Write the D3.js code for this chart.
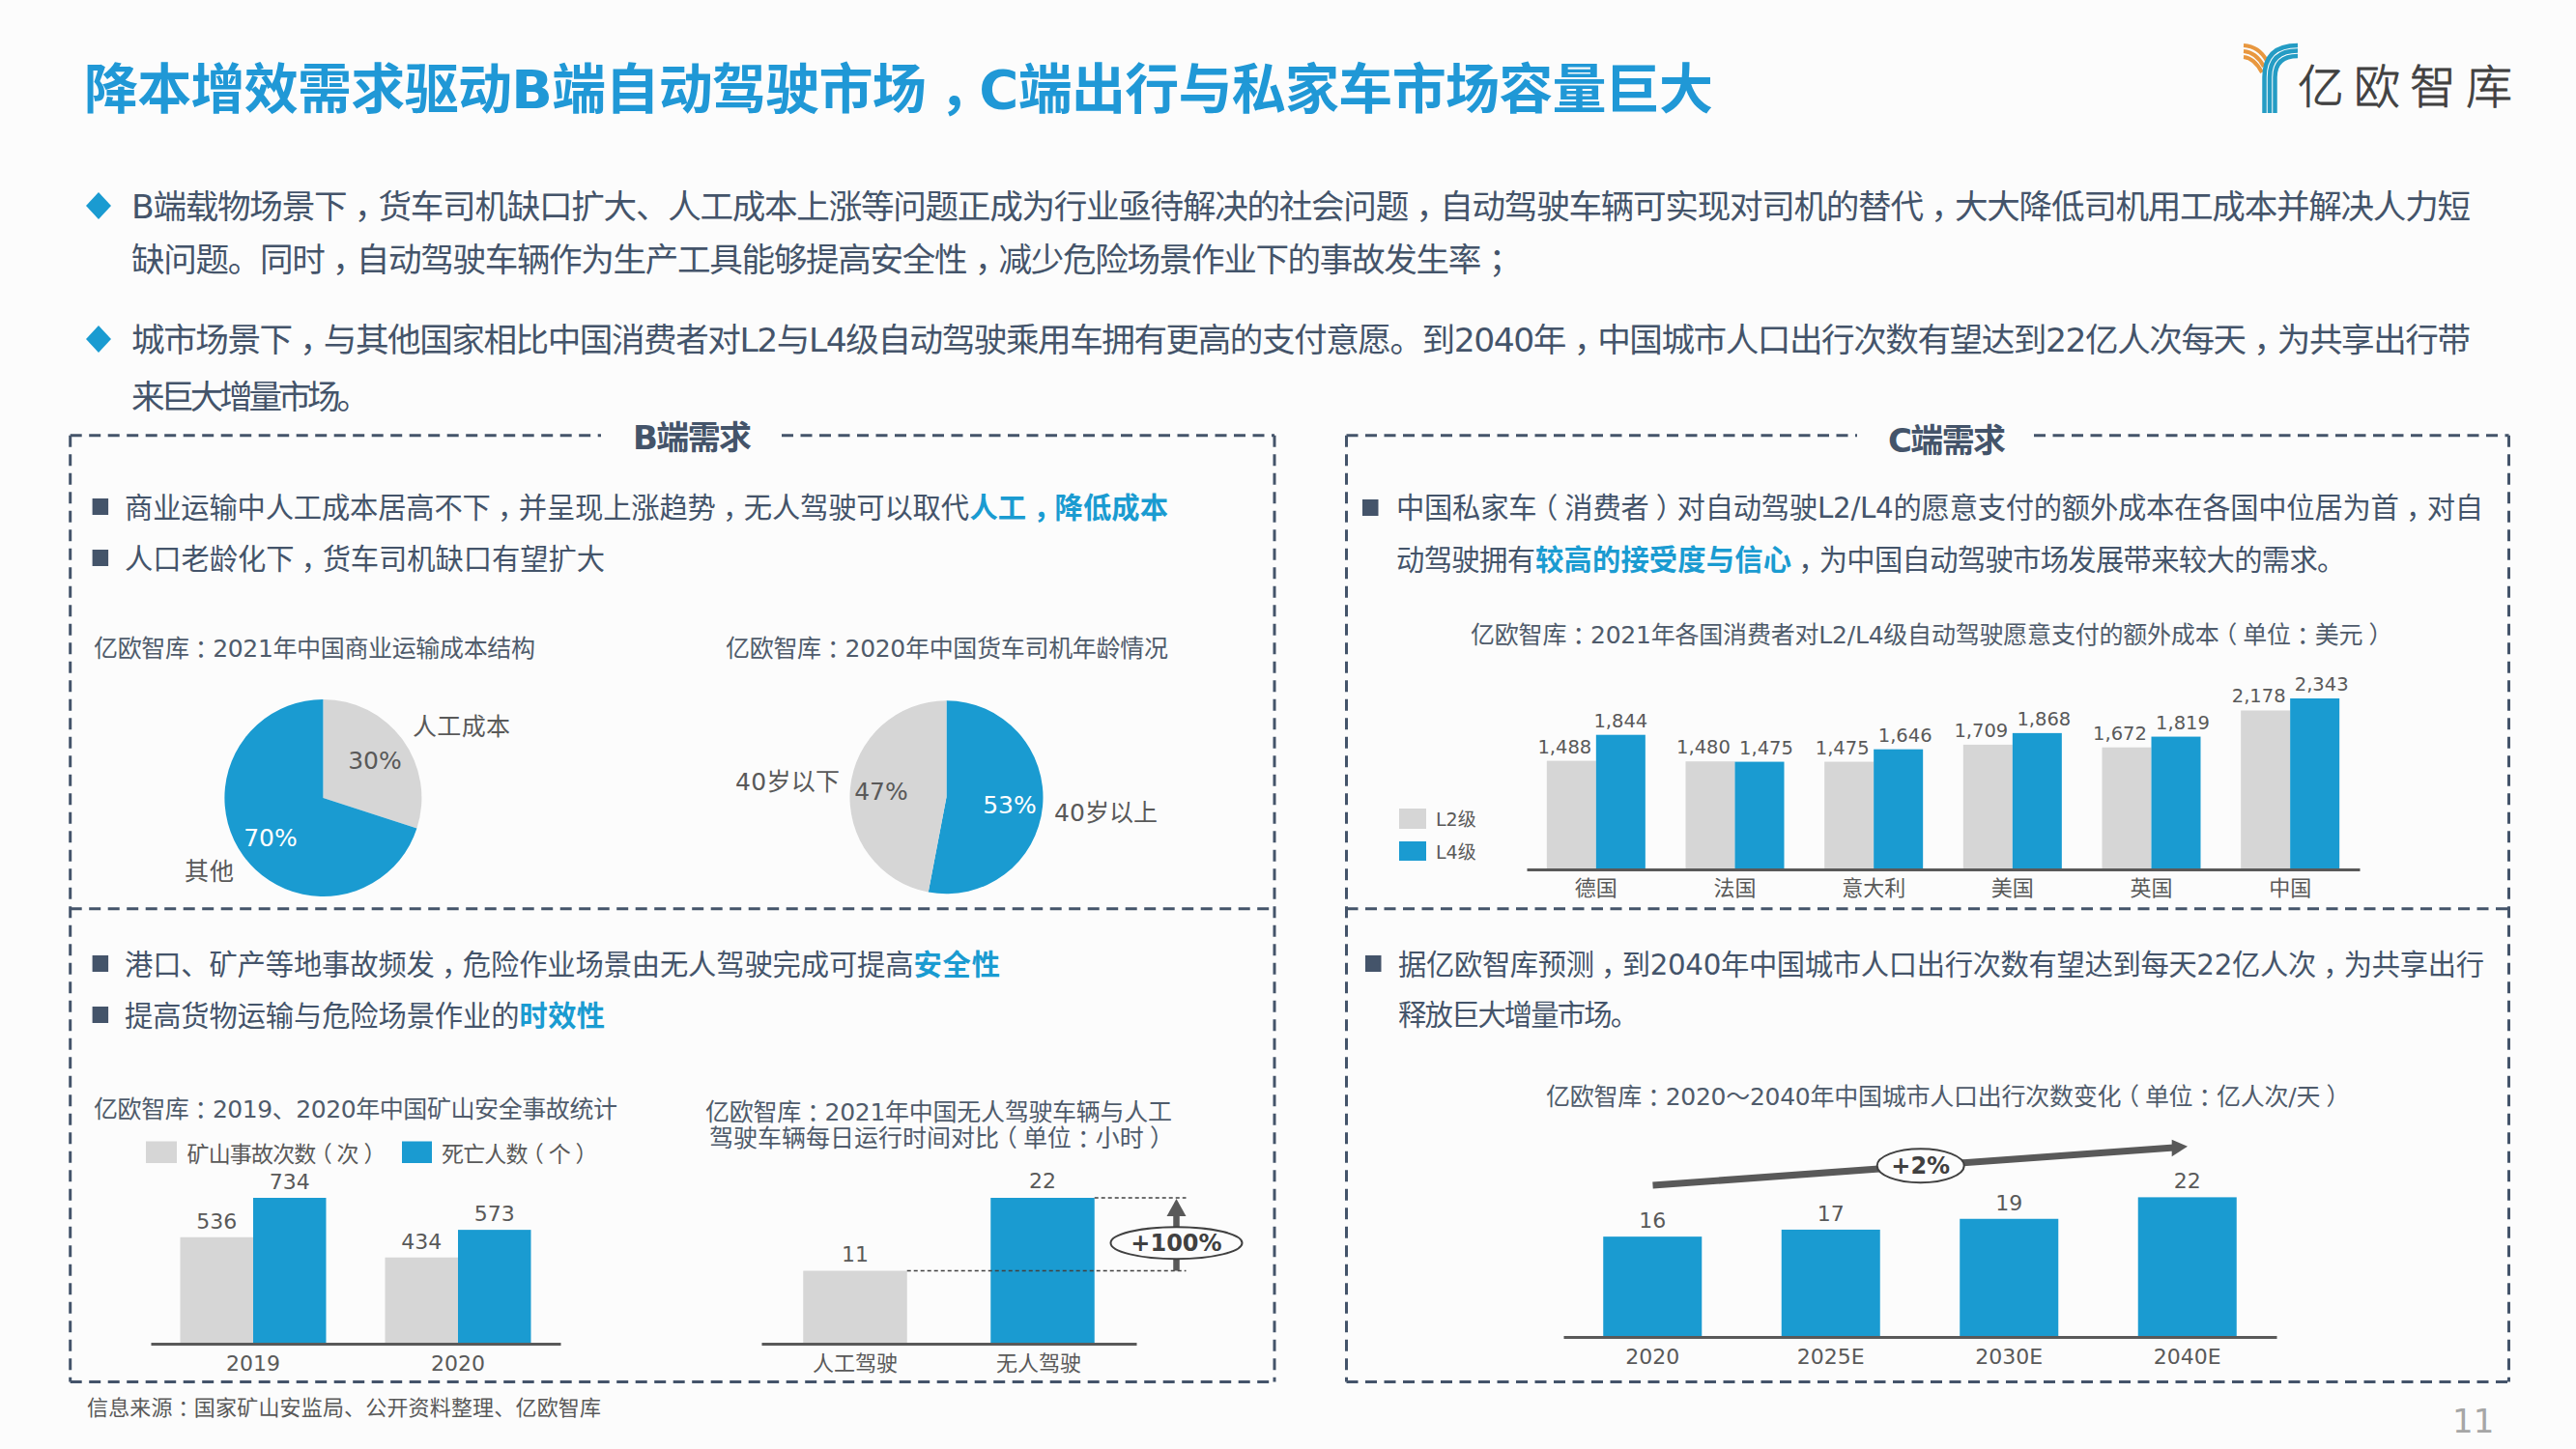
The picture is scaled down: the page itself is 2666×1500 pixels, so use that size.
<!DOCTYPE html>
<html>
<head>
<meta charset="utf-8">
<script src="https://d3js.org/d3.v7.min.js"></script>
<style>
    html, body { margin: 0; padding: 0; background: #fcfcfc; }
    svg { display: block; }
    text { font-family: "DejaVu Sans", "Noto Sans CJK SC", sans-serif; }
    .punct { font-feature-settings: "halt"; }
</style>
</head>
<body>
<div id="slide"></div>
<script>
// colours
var BLUE = "#1a9bd1", TITLE = "#2098d6", GREY = "#d6d6d6", SLATE = "#44546a", CAPTION = "#4f5b6b", TEXT = "#595959";

// pies
var costLabels = ["人工成本", "其他"];
var costValues = [30, 70];
var ageLabels = ["40岁以上", "40岁以下"];
var ageValues = [53, 47];

// willingness to pay
var countries = ["德国", "法国", "意大利", "美国", "英国", "中国"];
var l2Values = [1488, 1480, 1475, 1709, 1672, 2178];
var l4Values = [1844, 1475, 1646, 1868, 1819, 2343];

// mine accidents
var mineYears = ["2019", "2020"];
var accidentValues = [536, 434];
var deathValues = [734, 573];

// running hours
var driveTypes = ["人工驾驶", "无人驾驶"];
var hourValues = [11, 22];

// urban trips, bar heights, labels are the rounded values
var tripYears = ["2020", "2025E", "2030E", "2040E"];
var tripValues = [15.8, 16.9, 18.6, 22];

var svg = d3.select("#slide").append("svg")
    .attr("width", 2666)
    .attr("height", 1500)
    .attr("viewBox", [0, 0, 2666, 1500]);

// the slide sets wide punctuation in the middle of its cell:
// half width glyph with a quarter em either side
function txt(x, y, str, o) {
    o = o || {};
    var size = o.size || 25;
    var t = svg.append("text")
        .attr("x", x)
        .attr("y", y)
        .attr("font-size", size)
        .attr("fill", o.fill || TEXT)
        .attr("font-weight", o.bold ? "bold" : null)
        .attr("text-anchor", o.anchor || "start");
    var after = false;
    str.split(/([，：；（）])/).filter(function (s) { return s; }).forEach(function (s) {
        var isPunct = /[，：；（）]/.test(s);
        t.append("tspan")
            .attr("class", isPunct ? "punct" : null)
            .attr("dx", isPunct || after ? size / 4 * ((isPunct && after) ? 2 : 1) : 0)
            .text(s);
        after = isPunct;
    });
    if (o.width) t.attr("textLength", o.width).attr("lengthAdjust", "spacing");
    return t;
}

// header
txt(87, 111.5, "降本增效需求驱动B端自动驾驶市场，C端出行与私家车市场容量巨大", { size: 56, bold: true, fill: TITLE, width: 1686 });

// logo
var logoBlue = [[2343.5, 47], [2349, 52.5], [2354.5, 58]];
var logoOrange = [[47, 2346, 63], [53, 2343, 69], [59, 2341, 75]];
logoOrange.forEach(function (d) {
    svg.append("path").attr("d", `M2322 ${d[0]}Q${d[1] - 8} ${d[0] + 1} ${d[1]} ${d[2]}`)
        .attr("fill", "none").attr("stroke", "#e8973f").attr("stroke-width", 4);
});
logoBlue.forEach(function (d) {
    svg.append("path").attr("d", `M${d[0]} 117V80Q${d[0]} ${d[1]} 2378 ${d[1]}`)
        .attr("fill", "none").attr("stroke", "#249cc4").attr("stroke-width", 4.5);
});
txt(2378, 107, "亿欧智库", { size: 48, fill: "#404040", width: 222 })
    .style("font-weight", 300)
    .attr("stroke", "#404040")
    .attr("stroke-width", 0.8);

// top bullets
var introLines = [
    ["B端载物场景下，货车司机缺口扩大、人工成本上涨等问题正成为行业亟待解决的社会问题，自动驾驶车辆可实现对司机的替代，大大降低司机用工成本并解决人力短", 226, 2421],
    ["缺问题。同时，自动驾驶车辆作为生产工具能够提高安全性，减少危险场景作业下的事故发生率；", 281, 1422],
    ["城市场景下，与其他国家相比中国消费者对L2与L4级自动驾驶乘用车拥有更高的支付意愿。到2040年，中国城市人口出行次数有望达到22亿人次每天，为共享出行带", 364, 2421],
    ["来巨大增量市场。", 423, 247]
];
introLines.forEach(function (d) {
    txt(136, d[1], d[0], { size: 34.6, fill: SLATE, width: d[2] });
});
[213, 351].forEach(function (y) {
    svg.append("path").attr("d", `M102 ${y - 14}L115 ${y}L102 ${y + 14}L89 ${y}Z`).attr("fill", BLUE);
});

// dashed frames
function dash(x1, y1, x2, y2) {
    svg.append("line")
        .attr("x1", x1).attr("y1", y1).attr("x2", x2).attr("y2", y2)
        .attr("stroke", SLATE)
        .attr("stroke-width", 3)
        .attr("stroke-dasharray", "12 7.5");
}
dash(72.7, 450.7, 622, 450.7);
dash(809, 450.7, 1319, 450.7);
dash(72.7, 450.7, 72.7, 1430.5);
dash(1319, 450.7, 1319, 1430.5);
dash(72.7, 940.7, 1319, 940.7);
dash(72.7, 1430.5, 1319, 1430.5);
dash(1393.5, 450.7, 1922, 450.7);
dash(2105, 450.7, 2596.5, 450.7);
dash(1393.5, 450.7, 1393.5, 1430.5);
dash(2596.5, 450.7, 2596.5, 1430.5);
dash(1393.5, 940.7, 2596.5, 940.7);
dash(1393.5, 1430.5, 2596.5, 1430.5);

txt(655, 465, "B端需求", { size: 34, bold: true, fill: SLATE, width: 123 });
txt(1954, 468, "C端需求", { size: 34, bold: true, fill: SLATE, width: 122 });

// panel bullets: each piece is [text, x, width, highlighted]
function bullet(x, y, h) {
    svg.append("rect").attr("x", x).attr("y", y).attr("width", 16.5).attr("height", h).attr("fill", SLATE);
}
function line(y, pieces) {
    pieces.forEach(function (p) {
        txt(p[1], y, p[0], { size: 29.3, fill: p[3] ? BLUE : SLATE, bold: p[3], width: p[2] });
    });
}
bullet(95.6, 516, 17);
line(536, [["商业运输中人工成本居高不下，并呈现上涨趋势，无人驾驶可以取代", 129, 874], ["人工，降低成本", 1003.5, 205.5, true]]);
bullet(95.6, 569, 17);
line(589, [["人口老龄化下，货车司机缺口有望扩大", 129, 497]]);
bullet(1410, 517, 17);
line(536, [["中国私家车（消费者）对自动驾驶L2/L4的愿意支付的额外成本在各国中位居为首，对自", 1445, 1125]]);
line(590, [["动驾驶拥有", 1445, 144], ["较高的接受度与信心", 1589, 265, true], ["，为中国自动驾驶市场发展带来较大的需求。", 1854, 566]]);
bullet(95.6, 989, 17);
line(1009, [["港口、矿产等地事故频发，危险作业场景由无人驾驶完成可提高", 129, 816.5], ["安全性", 945.5, 89.5, true]]);
bullet(95.6, 1042, 17);
line(1062, [["提高货物运输与危险场景作业的", 129, 408.5], ["时效性", 537.6, 88.4, true]]);
bullet(1413, 989, 17);
line(1008.5, [["据亿欧智库预测，到2040年中国城市人口出行次数有望达到每天22亿人次，为共享出行", 1447, 1124]]);
line(1060.5, [["释放巨大增量市场。", 1447, 249]]);

// chart titles
txt(97, 680, "亿欧智库：2021年中国商业运输成本结构", { width: 457, fill: CAPTION });
txt(751, 680, "亿欧智库：2020年中国货车司机年龄情况", { width: 458, fill: CAPTION });
txt(1522, 666, "亿欧智库：2021年各国消费者对L2/L4级自动驾驶愿意支付的额外成本（单位：美元）", { width: 942, fill: CAPTION });
txt(97, 1157, "亿欧智库：2019、2020年中国矿山安全事故统计", { width: 542, fill: CAPTION });
txt(730, 1160, "亿欧智库：2021年中国无人驾驶车辆与人工", { width: 483, fill: CAPTION });
txt(734, 1187, "驾驶车辆每日运行时间对比（单位：小时）", { width: 468.6, fill: CAPTION });
txt(1600, 1144, "亿欧智库：2020～2040年中国城市人口出行次数变化（单位：亿人次/天）", { width: 820, fill: CAPTION });

// pies
function pie(values, colors, cx, cy, r) {
    var arcs = d3.pie().sort(null)(values);
    var arc = d3.arc().innerRadius(0).outerRadius(r);
    svg.append("g")
        .attr("transform", `translate(${cx},${cy})`)
        .selectAll("path")
        .data(arcs)
        .join("path")
        .attr("d", arc)
        .attr("fill", function (d, i) { return colors[i]; });
}
pie(costValues, [GREY, BLUE], 334.4, 826, 102);
pie(ageValues, [BLUE, GREY], 979.5, 825.3, 100);

txt(388, 796, costValues[0] + "%", { anchor: "middle" });
txt(280, 876, costValues[1] + "%", { anchor: "middle", fill: "#fff" });
txt(427, 761, costLabels[0], { width: 101 });
txt(191, 911, costLabels[1], { width: 51 });
txt(1045, 842, ageValues[0] + "%", { anchor: "middle", fill: "#fff" });
txt(912, 828, ageValues[1] + "%", { anchor: "middle" });
txt(1091, 850, ageLabels[0], { width: 107 });
txt(761, 818, ageLabels[1], { width: 108 });

function axis(x, yBase, pad, size) {
    var g = svg.append("g")
        .attr("transform", `translate(0,${yBase})`)
        .call(d3.axisBottom(x).tickSize(0).tickPadding(pad));
    g.select(".domain").attr("stroke", TEXT).attr("stroke-width", 3);
    g.selectAll("text")
        .attr("font-size", size)
        .attr("fill", TEXT)
        .style("font-family", '"DejaVu Sans", "Noto Sans CJK SC", sans-serif');
    return g;
}

// grouped bars, both series side by side in each band
function grouped(cats, a, b, o) {
    var x = d3.scaleBand().domain(cats).range(o.range).paddingInner(o.gap).paddingOuter(o.gap / 2);
    var y = d3.scaleLinear().domain([0, o.max]).range([o.base, o.top]);
    var w = x.bandwidth() / 2;
    [a, b].forEach(function (vals, s) {
        svg.append("g").selectAll("rect")
            .data(vals)
            .join("rect")
            .attr("x", function (d, i) { return x(cats[i]) + s * w; })
            .attr("width", w)
            .attr("y", function (d) { return y(d); })
            .attr("height", function (d) { return o.base - y(d); })
            .attr("fill", s ? BLUE : GREY);
        svg.append("g").selectAll("text")
            .data(vals)
            .join("text")
            .attr("x", function (d, i) { return x(cats[i]) + s * w + w / 2 + o.nudge(s, i); })
            .attr("y", function (d) { return y(d) - o.above; })
            .attr("text-anchor", "middle")
            .attr("font-size", o.size)
            .attr("fill", TEXT)
            .text(function (d) { return o.format(d); });
    });
    axis(x, o.base, o.pad, o.tick);
}

grouped(countries, l2Values, l4Values, {
    range: [1580, 2442], gap: 0.29, max: 2343, base: 900, top: 723, above: 8, size: 19.5, tick: 22, pad: 11,
    format: d3.format(","),
    nudge: function (s, i) { return s ? (i ? 7 : 0) : -7; }
});
svg.append("rect").attr("x", 1448).attr("y", 837).attr("width", 28).attr("height", 21).attr("fill", GREY);
svg.append("rect").attr("x", 1448).attr("y", 871).attr("width", 28).attr("height", 20).attr("fill", BLUE);
txt(1486, 855, "L2级", { size: 19 });
txt(1486, 889, "L4级", { size: 19 });

grouped(mineYears, accidentValues, deathValues, {
    range: [156, 580], gap: 0.288, max: 734, base: 1391, top: 1240, above: 9, size: 22, tick: 22, pad: 12,
    format: String,
    nudge: function () { return 0; }
});
svg.append("rect").attr("x", 151).attr("y", 1181.5).attr("width", 32).attr("height", 22.5).attr("fill", GREY);
svg.append("rect").attr("x", 416).attr("y", 1181.5).attr("width", 31).attr("height", 22.5).attr("fill", BLUE);
txt(193.5, 1203, "矿山事故次数（次）", { size: 23, width: 194.5 });
txt(457, 1203, "死亡人数（个）", { size: 23, width: 150 });

// single bars
function single(cats, vals, colors, o) {
    var x = d3.scaleBand().domain(cats).range(o.range).paddingInner(o.gap).paddingOuter(o.gap / 2);
    var y = d3.scaleLinear().domain([0, o.max]).range([o.base, o.top]);
    svg.append("g").selectAll("rect")
        .data(vals)
        .join("rect")
        .attr("x", function (d, i) { return x(cats[i]); })
        .attr("width", x.bandwidth())
        .attr("y", function (d) { return y(d); })
        .attr("height", function (d) { return o.base - y(d); })
        .attr("fill", function (d, i) { return colors[i]; });
    svg.append("g").selectAll("text")
        .data(vals)
        .join("text")
        .attr("x", function (d, i) { return x(cats[i]) + x.bandwidth() / 2; })
        .attr("y", function (d) { return y(d) - o.above; })
        .attr("text-anchor", "middle")
        .attr("font-size", 22)
        .attr("fill", TEXT)
        .text(d3.format(".0f"));
    var g = axis(x, o.base, o.pad, 22);
    return { x: x, y: y, axis: g };
}

var hours = single(driveTypes, hourValues, [GREY, BLUE], {
    range: [788, 1176], gap: 0.446, max: 22, base: 1391, top: 1240, above: 10, pad: 12
});
// second tick label sits a little left of its bar in the original
hours.axis.selectAll(".tick text").attr("dx", function (d, i) { return i ? -4 : 0; });

// +100% callout
var hx = hours.x;
[[driveTypes[0], hourValues[0]], [driveTypes[1], hourValues[1]]].forEach(function (d) {
    svg.append("line")
        .attr("x1", hx(d[0]) + hx.bandwidth())
        .attr("x2", 1227.5)
        .attr("y1", hours.y(d[1]))
        .attr("y2", hours.y(d[1]))
        .attr("stroke", "#404040")
        .attr("stroke-width", 1.6)
        .attr("stroke-dasharray", "4 3");
});
var calloutX = 1217.5;
svg.append("line").attr("x1", calloutX).attr("x2", calloutX).attr("y1", hours.y(hourValues[0])).attr("y2", hours.y(hourValues[1]) + 15)
    .attr("stroke", TEXT).attr("stroke-width", 6.5);
svg.append("path").attr("d", `M${calloutX} ${hours.y(hourValues[1]) + 1}l10 18h-20Z`).attr("fill", TEXT);
svg.append("ellipse").attr("cx", calloutX).attr("cy", 1286.7).attr("rx", 68).attr("ry", 16.5)
    .attr("fill", "#fcfcfc").attr("stroke", "#404040").attr("stroke-width", 2);
txt(calloutX, 1295, "+100%", { size: 24, bold: true, anchor: "middle", fill: "#404040" });

single(tripYears, tripValues, [BLUE, BLUE, BLUE, BLUE], {
    range: [1618, 2356], gap: 0.447, max: 22, base: 1384, top: 1239.4, above: 9, pad: 12.4
});

// +2% trend arrow
svg.append("line").attr("x1", 1710.5).attr("y1", 1227).attr("x2", 2250).attr("y2", 1188)
    .attr("stroke", TEXT).attr("stroke-width", 7);
svg.append("path").attr("d", "M2264 1186.8L2247.7 1179.7V1197.3Z").attr("fill", TEXT);
svg.append("ellipse").attr("cx", 1987.7).attr("cy", 1206.7).attr("rx", 45).attr("ry", 17.5)
    .attr("fill", "#fcfcfc").attr("stroke", "#404040").attr("stroke-width", 2);
txt(1987.7, 1215, "+2%", { size: 24, bold: true, anchor: "middle", fill: "#404040" });

// footer
txt(90, 1465, "信息来源：国家矿山安监局、公开资料整理、亿欧智库", { size: 22, width: 532 });
txt(2538, 1483, "11", { size: 34, fill: "#a6a6a6" });
</script>
</body>
</html>
